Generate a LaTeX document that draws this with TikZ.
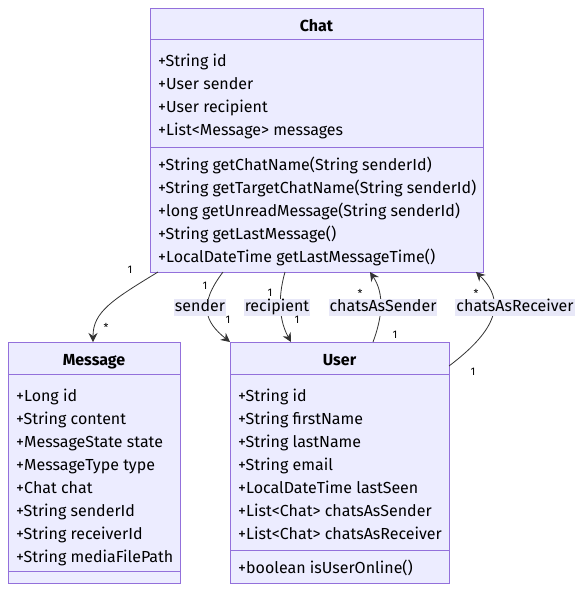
\documentclass[tikz,border=0pt]{standalone}
\usepackage{fontspec}
\setmainfont{Fira Sans}
\usetikzlibrary{arrows.meta,calc}
\definecolor{boxfill}{HTML}{ECECFF}
\definecolor{boxline}{HTML}{9370DB}
\definecolor{edgecol}{HTML}{333333}
\definecolor{lblfill}{HTML}{E8E8F8}
\begin{document}
\begin{tikzpicture}[x=1pt,y=-1pt,
  classbox/.style={draw=boxline,fill=boxfill,line width=1pt,inner sep=0pt,rectangle},
  divline/.style={draw=boxline,line width=1pt},
  member/.style={anchor=base west,inner sep=0pt,font=\fontsize{16}{19}\selectfont,text=black},
  title/.style={anchor=base,inner sep=0pt,font=\fontsize{16}{19}\selectfont\bfseries,text=black},
  rel/.style={draw=edgecol,line width=0.8pt},
  relarrow/.style={rel,-{Stealth[length=9pt,width=9pt,inset=3pt]}},
  elabel/.style={fill=lblfill,inner xsep=1pt,inner ysep=0pt,text height=12.5pt,text depth=4.5pt,font=\fontsize{16}{19}\selectfont,text=black},
  card/.style={inner sep=0pt,font=\fontsize{11}{13}\selectfont,text=black}
]
\useasboundingbox (0,0) rectangle (582,592);
\fill[white] (0,0) rectangle (582,592);

% Chat
\node[classbox,minimum width=333pt,minimum height=264pt] (chat) at (316.5,140) {};
\draw[divline] (150,39) -- (483,39);
\draw[divline] (150,147) -- (483,147);
\node[title] (chatT) at (316.5,31) {Chat};
\node[member] (c1) at (158,66) {+String id};
\node[member] (c2) at (158,89) {+User sender};
\node[member] (c3) at (158,112) {+User recipient};
\node[member] (c4) at (158,135) {+List<Message> messages};
\node[member] (c5) at (158,170) {+String getChatName(String senderId)};
\node[member] (c6) at (158,193) {+String getTargetChatName(String senderId)};
\node[member] (c7) at (158,216) {+long getUnreadMessage(String senderId)};
\node[member] (c8) at (158,239) {+String getLastMessage()};
\node[member] (c9) at (158,262) {+LocalDateTime getLastMessageTime()};

% Message
\node[classbox,minimum width=172pt,minimum height=241pt] (msg) at (94,462.5) {};
\draw[divline] (8,374) -- (180,374);
\draw[divline] (8,571) -- (180,571);
\node[title] (msgT) at (94,365) {Message};
\node[member] (m1) at (16,401) {+Long id};
\node[member] (m2) at (16,424) {+String content};
\node[member] (m3) at (16,447) {+MessageState state};
\node[member] (m4) at (16,470) {+MessageType type};
\node[member] (m5) at (16,493) {+Chat chat};
\node[member] (m6) at (16,516) {+String senderId};
\node[member] (m7) at (16,539) {+String receiverId};
\node[member] (m8) at (16,562) {+String mediaFilePath};

% User
\node[classbox,minimum width=219pt,minimum height=241pt] (user) at (339.5,462.5) {};
\draw[divline] (230,374) -- (449,374);
\draw[divline] (230,550) -- (449,550);
\node[title] (userT) at (339.5,365) {User};
\node[member] (u1) at (238,401) {+String id};
\node[member] (u2) at (238,424) {+String firstName};
\node[member] (u3) at (238,447) {+String lastName};
\node[member] (u4) at (238,470) {+String email};
\node[member] (u5) at (238,493) {+LocalDateTime lastSeen};
\node[member] (u6) at (238,516) {+List<Chat> chatsAsSender};
\node[member] (u7) at (238,539) {+List<Chat> chatsAsReceiver};
\node[member] (u8) at (238,573) {+boolean isUserOnline()};

% endpoints
\coordinate (e1s) at (158,272);
\coordinate (e1t) at (93,342);
\coordinate (e2s) at (223,272);
\coordinate (e2t) at (230,342);
\coordinate (e3s) at (285,272);
\coordinate (e3t) at (291,342);
\coordinate (e4s) at (373,342);
\coordinate (e4t) at (370,272);
\coordinate (e5s) at (449,366);
\coordinate (e5t) at (476,272);

% connectors
\draw[relarrow] (e1s) .. controls (112,300) and (93,312) .. (e1t);
\draw[relarrow] (e2s) .. controls (198,305) and (205,322) .. (e2t);
\draw[relarrow] (e3s) .. controls (277,300) and (280,322) .. (e3t);
\draw[relarrow] (e4s) .. controls (385,310) and (382,290) .. (e4t);
\draw[relarrow] (e5s) .. controls (490,335) and (510,305) .. (e5t);

% edge labels
\node[elabel] (l1) at (200,307) {sender};
\node[elabel] (l2) at (277,307) {recipient};
\node[elabel] (l3) at (383,307) {chatsAsSender};
\node[elabel] (l4) at (515,307) {chatsAsReceiver};

% cardinalities
\node[card] (k1a) at (130,270) {1};
\node[card] (k1b) at (106,327) {*};
\node[card] (k2a) at (205,286) {1};
\node[card] (k2b) at (228,320) {1};
\node[card] (k3a) at (270,293) {1};
\node[card] (k3b) at (297,320) {1};
\node[card] (k4a) at (360,293) {*};
\node[card] (k4b) at (395,335) {1};
\node[card] (k5a) at (476,293) {*};
\node[card] (k5b) at (473,372) {1};
\end{tikzpicture}
\end{document}
